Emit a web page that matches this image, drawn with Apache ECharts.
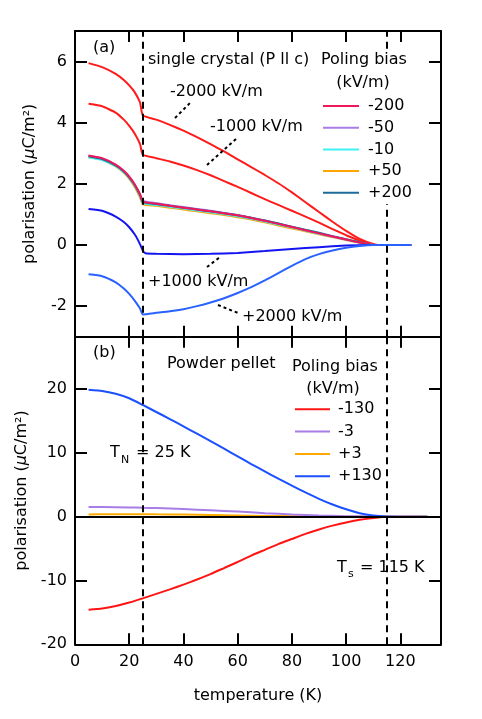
<!DOCTYPE html>
<html><head><meta charset="utf-8">
<script src="https://cdn.jsdelivr.net/npm/echarts@6/dist/echarts.min.js"></script>
<style>html,body{margin:0;padding:0;background:#fff}#c{width:482px;height:719px}</style>
</head><body><div id="c"></div>
<script>
// ---------- data ----------
const xTicks = [0, 20, 40, 60, 80, 100, 120];
const yTicksTop = [-2, 0, 2, 4, 6];
const yTicksBottom = [-20, -10, 0, 10, 20];
const transitionT = [25, 115];

// (a) single crystal
const T_m2000 = [5, 10, 15, 18, 20, 22, 24, 25, 30, 35, 40, 45, 50, 55, 60, 65, 70, 75, 80, 85, 90, 95, 100, 105, 110, 112, 115, 120, 124];
const P_m2000 = [5.95, 5.82, 5.6, 5.4, 5.22, 5.0, 4.66, 4.24, 4.1, 3.93, 3.74, 3.53, 3.3, 3.06, 2.8, 2.55, 2.29, 2.02, 1.72, 1.4, 1.08, 0.76, 0.46, 0.2, 0.03, 0, 0, 0, 0];
const T_m1000 = [5, 10, 15, 18, 20, 22, 24, 25, 30, 35, 40, 45, 50, 55, 60, 65, 70, 75, 80, 85, 90, 95, 100, 105, 110, 115, 120, 124];
const P_m1000 = [4.62, 4.54, 4.33, 4.1, 3.9, 3.65, 3.3, 2.95, 2.84, 2.73, 2.6, 2.45, 2.28, 2.09, 1.9, 1.7, 1.5, 1.31, 1.12, 0.93, 0.73, 0.52, 0.32, 0.14, 0, 0, 0, 0];
const T_mid = [5, 10, 15, 18, 20, 22, 24, 25, 30, 35, 40, 45, 50, 55, 60, 65, 70, 75, 80, 85, 90, 95, 100, 105, 110, 115, 120, 124];
const P_m200 = [2.93, 2.84, 2.63, 2.43, 2.24, 1.99, 1.66, 1.42, 1.35, 1.28, 1.22, 1.16, 1.10, 1.04, 0.97, 0.88, 0.79, 0.69, 0.59, 0.48, 0.38, 0.28, 0.18, 0.08, 0, 0, 0, 0];
const P_m50  = [2.92, 2.83, 2.62, 2.42, 2.23, 1.98, 1.65, 1.44, 1.37, 1.30, 1.24, 1.18, 1.12, 1.05, 0.98, 0.89, 0.80, 0.70, 0.59, 0.48, 0.38, 0.28, 0.18, 0.08, 0, 0, 0, 0];
const P_m10  = [2.86, 2.78, 2.58, 2.38, 2.19, 1.94, 1.60, 1.37, 1.31, 1.25, 1.19, 1.13, 1.07, 1.01, 0.94, 0.86, 0.77, 0.67, 0.57, 0.47, 0.37, 0.27, 0.17, 0.08, 0, 0, 0, 0];
const P_p50  = [2.88, 2.79, 2.57, 2.36, 2.16, 1.90, 1.55, 1.33, 1.28, 1.22, 1.16, 1.10, 1.04, 0.98, 0.91, 0.83, 0.74, 0.64, 0.54, 0.45, 0.35, 0.26, 0.16, 0.07, 0, 0, 0, 0];
const P_p200 = [2.90, 2.81, 2.60, 2.40, 2.21, 1.96, 1.63, 1.40, 1.34, 1.28, 1.22, 1.16, 1.10, 1.04, 0.97, 0.89, 0.80, 0.70, 0.60, 0.50, 0.40, 0.29, 0.19, 0.09, 0, 0, 0, 0];
const T_p1000 = [5, 10, 15, 18, 20, 22, 23, 24, 25, 26, 30, 40, 50, 60, 70, 80, 90, 100, 108, 115, 120, 124];
const P_p1000 = [1.18, 1.12, 0.93, 0.75, 0.58, 0.35, 0.2, 0.02, -0.18, -0.27, -0.29, -0.3, -0.29, -0.26, -0.2, -0.13, -0.07, -0.02, 0, 0, 0, 0];
const T_p2000 = [5, 10, 15, 18, 20, 22, 24, 25, 30, 35, 40, 45, 50, 55, 60, 65, 70, 75, 80, 85, 90, 95, 100, 105, 110, 115, 120, 124];
const P_p2000 = [-0.96, -1.02, -1.22, -1.42, -1.6, -1.82, -2.08, -2.27, -2.22, -2.17, -2.1, -2.0, -1.88, -1.74, -1.57, -1.38, -1.16, -0.92, -0.68, -0.46, -0.3, -0.18, -0.09, -0.03, 0, 0, 0, 0];
const topLegendLabels = ['-200', '-50', '-10', '+50', '+200'];

// (b) powder pellet
const T_b130 = [5, 10, 15, 20, 25, 30, 35, 40, 45, 50, 55, 60, 65, 70, 75, 80, 85, 90, 95, 100, 105, 110, 115, 120, 125, 130];
const P_p130 = [19.9, 19.7, 19.25, 18.55, 17.5, 16.4, 15.3, 14.15, 13.0, 11.85, 10.65, 9.45, 8.25, 7.1, 5.95, 4.85, 3.8, 2.8, 1.9, 1.15, 0.55, 0.18, 0.02, 0, 0, 0];
const P_m130 = [-14.6, -14.4, -14.0, -13.45, -12.8, -12.1, -11.4, -10.65, -9.85, -9.0, -8.05, -7.1, -6.1, -5.2, -4.3, -3.5, -2.7, -2.0, -1.4, -0.9, -0.5, -0.2, 0, 0, 0, 0];
const T_b3 = [5, 10, 20, 25, 30, 40, 50, 60, 70, 80, 90, 100, 110, 115, 120, 130];
const P_m3 = [1.5, 1.5, 1.45, 1.4, 1.35, 1.2, 1.0, 0.8, 0.55, 0.35, 0.2, 0.08, 0.02, 0, 0, 0];
const P_p3 = [0.35, 0.37, 0.38, 0.38, 0.36, 0.32, 0.25, 0.18, 0.12, 0.07, 0.03, 0.01, 0, 0, 0, 0];
const bottomLegendLabels = ['-130', '-3', '+3', '+130'];

// ---------- styling ----------
const FONT = '"DejaVu Sans", sans-serif';
const topColors = ['#f0185a', '#a97de6', '#3cf2f2', '#ffa500', '#1e6b9a'];
const bottomColors = ['#ff1414', '#a97de6', '#ffaa00', '#1c50ff'];

function mk(name, T, P, color, xi, yi, z) {
  return {
    name, type: 'line', xAxisIndex: xi, yAxisIndex: yi,
    data: T.map((t, i) => [t, P[i]]),
    showSymbol: false, symbol: 'none', smooth: 0.15,
    lineStyle: { color, width: 2 }, itemStyle: { color }, z: z || 2,
    silent: true, animation: false
  };
}

function xAx(grid, pos, labels, name) {
  return {
    type: 'value', gridIndex: grid, position: pos, min: 0, max: 135,
    axisLine: { onZero: false, lineStyle: { color: '#000', width: 2 } },
    axisTick: { inside: true, length: 11, customValues: xTicks.slice(1), lineStyle: { color: '#000', width: 2 } },
    axisLabel: { show: labels, customValues: xTicks, color: '#000', fontSize: 16, fontFamily: FONT, margin: 10 },
    splitLine: { show: false },
    name: name || '', nameLocation: 'middle', nameGap: 44,
    nameTextStyle: { color: '#000', fontSize: 16, fontFamily: FONT }
  };
}
function yAx(grid, pos, min, max, ticks, labels, withName) {
  return {
    type: 'value', gridIndex: grid, position: pos, min, max,
    axisLine: { onZero: false, lineStyle: { color: '#000', width: 2 } },
    axisTick: { inside: true, length: 12, customValues: ticks, lineStyle: { color: '#000', width: 2 } },
    axisLabel: { show: labels, customValues: ticks, color: '#000', fontSize: 16, fontFamily: FONT, margin: 8 },
    splitLine: { show: false },
    name: withName ? '{n|polarisation (}{i|μ}{n|C/m²)}' : '',
    nameLocation: 'middle', nameGap: 37, nameRotate: 90,
    nameTextStyle: { color: '#000', fontSize: 16, fontFamily: FONT,
      rich: { n: { fontSize: 16, fontFamily: FONT, color: '#000' }, i: { fontSize: 16, fontFamily: FONT, fontStyle: 'italic', color: '#000' } } }
  };
}

const dashStyle = { type: [7, 5], color: '#000', width: 2 };

const series = [
  mk('-2000 kV/m', T_m2000, P_m2000, '#ff1a1a', 0, 0),
  mk('-1000 kV/m', T_m1000, P_m1000, '#ff1a1a', 0, 0),
  mk('+50', T_mid, P_p50, topColors[3], 0, 0),
  mk('-10', T_mid, P_m10, topColors[2], 0, 0),
  mk('-50', T_mid, P_m50, topColors[1], 0, 0),
  mk('+200', T_mid, P_p200, topColors[4], 0, 0),
  mk('-200', T_mid, P_m200, topColors[0], 0, 0),
  mk('+1000 kV/m', T_p1000, P_p1000, '#1414f0', 0, 0),
  mk('+2000 kV/m', T_p2000, P_p2000, '#2a62ff', 0, 0),
  mk('-130', T_b130, P_m130, bottomColors[0], 2, 2, 3),
  mk('+3', T_b3, P_p3, bottomColors[2], 2, 2, 3),
  mk('-3', T_b3, P_m3, bottomColors[1], 2, 2, 3),
  mk('+130', T_b130, P_p130, bottomColors[3], 2, 2, 3)
];
series[0].markLine = { symbol: ['none', 'none'], silent: true, animation: false, label: { show: false },
  lineStyle: dashStyle, data: transitionT.map(t => ({ xAxis: t })) };
series[9].markLine = { symbol: ['none', 'none'], silent: true, animation: false, label: { show: false },
  lineStyle: dashStyle, data: transitionT.map(t => ({ xAxis: t })).concat([{ yAxis: 0, lineStyle: { type: 'solid', color: '#000', width: 2 } }]) };

// ---------- annotations (pixel layout) ----------
function txt(text, x, y, align, size, z) {
  return { type: 'text', z: z || 20, silent: true,
    style: { text, x, y, fill: '#000', font: (size || 16) + 'px ' + FONT, textAlign: align || 'left', textVerticalAlign: 'middle' } };
}
function seg(x1, y1, x2, y2, color, dash, z) {
  return { type: 'line', z: z || 20, silent: true, shape: { x1, y1, x2, y2 },
    style: { stroke: color, lineWidth: 2, lineDash: dash || null } };
}
const g = [];
g.push({ type: 'rect', z: 15, silent: true, shape: { x: 318, y: 52, width: 92, height: 152 }, style: { fill: '#fff' } });
g.push(txt('(a)', 93, 48));
g.push(txt('single crystal (P ll c)', 148, 60));
g.push(txt('Poling bias', 321, 60));
g.push(txt('(kV/m)', 363, 83, 'center'));
topLegendLabels.forEach((lab, i) => {
  const y = 106 + i * 21.7;
  g.push(seg(323, y, 359, y, topColors[i]));
  g.push(txt(lab, 368, y));
});
g.push(txt('-2000 kV/m', 170, 92));
g.push(seg(175, 118, 190, 103, '#000', [3, 3]));
g.push(txt('-1000 kV/m', 210, 127));
g.push(seg(207, 165, 237, 138, '#000', [3, 3]));
g.push(txt('+1000 kV/m', 148, 282));
g.push(seg(207, 267, 220, 257, '#000', [3, 3]));
g.push(txt('+2000 kV/m', 242, 317));
g.push(seg(218, 305, 238, 313, '#000', [3, 3]));

g.push(txt('(b)', 93, 353));
g.push(txt('Powder pellet', 167, 364));
g.push(txt('Poling bias', 292, 367));
g.push(txt('(kV/m)', 333, 389, 'center'));
bottomLegendLabels.forEach((lab, i) => {
  const y = 409.3 + i * 22.3;
  g.push(seg(295, y, 330, y, bottomColors[i]));
  g.push(txt(lab, 338, y));
});
g.push(txt('T', 110, 453));
g.push(txt('N', 121, 460, 'left', 11));
g.push(txt('= 25 K', 136, 453));
g.push(txt('T', 337, 568));
g.push(txt('s', 348, 574, 'left', 11));
g.push(txt('= 115 K', 360, 568));

const chart = echarts.init(document.getElementById('c'), null, { renderer: 'canvas' });
chart.setOption({
  animation: false,
  backgroundColor: '#fff',
  textStyle: { fontFamily: FONT },
  grid: [
    { left: 75, top: 31, width: 366, height: 305.7 },
    { left: 75, top: 336.7, width: 366, height: 307.6 }
  ],
  xAxis: [
    xAx(0, 'bottom', false), xAx(0, 'top', false),
    xAx(1, 'bottom', true, 'temperature (K)'), xAx(1, 'top', false)
  ],
  yAxis: [
    yAx(0, 'left', -3, 7, yTicksTop, true, true), yAx(0, 'right', -3, 7, yTicksTop, false, false),
    yAx(1, 'left', -20, 28.2, yTicksBottom, true, true), yAx(1, 'right', -20, 28.2, yTicksBottom, false, false)
  ],
  series,
  graphic: g
});
</script></body></html>
